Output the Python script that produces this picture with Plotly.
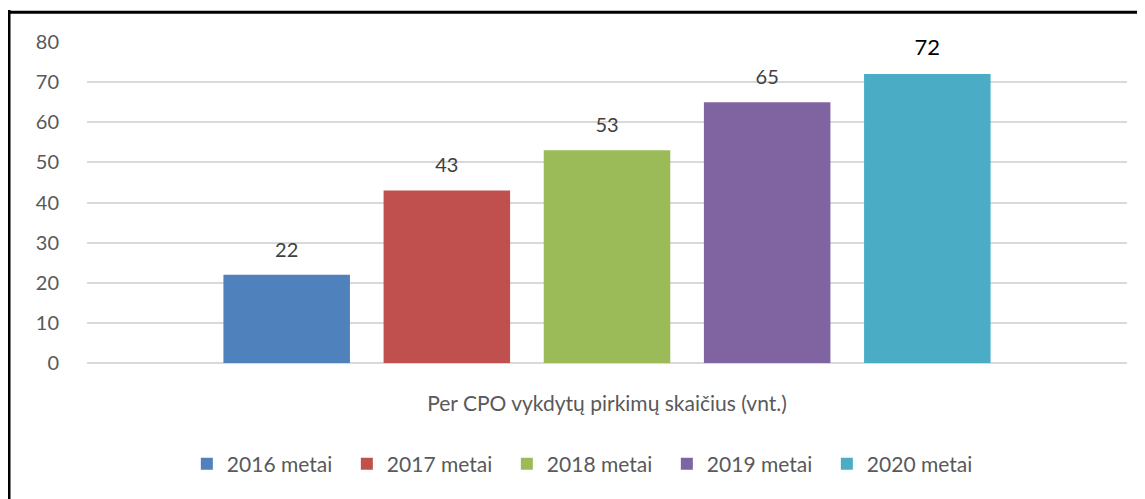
import plotly.graph_objects as go

category = "Per CPO vykdytų pirkimų skaičius (vnt.)"
years = ["2016 metai", "2017 metai", "2018 metai", "2019 metai", "2020 metai"]
counts = [22, 43, 53, 65, 72]
colors = ["#4F81BD", "#C0504D", "#9BBB59", "#8064A2", "#4BACC6"]
label_colors = ["#404040", "#404040", "#404040", "#404040", "#000000"]
label_sizes = [20, 20, 20, 20, 22]

# invisible tall sub spans on both sides pad the label upward from the bar top
pad = "<sub><span style='font-size:50px'>&nbsp;</span></sub>"

fig = go.Figure()
for name, val, col, lc, ls in zip(years, counts, colors, label_colors, label_sizes):
    fig.add_trace(go.Bar(
        x=[category],
        y=[val],
        name=name,
        marker=dict(color=col, line=dict(width=0)),
        text=[val],
        texttemplate=pad + "%{y}" + pad,
        textposition="outside",
        textfont=dict(color=lc, size=ls, family="Lato"),
        cliponaxis=False,
    ))

# page body adds 8px offset, so margins are shifted to compensate
fig.update_layout(
    barmode="group",
    bargap=0.23,
    bargroupgap=0.21,
    width=1145,
    height=499,
    margin=dict(l=79, r=26, t=34, b=144, autoexpand=False),
    plot_bgcolor="white",
    paper_bgcolor="white",
    font=dict(family="Lato", size=20, color="#595959"),
    legend=dict(
        orientation="h",
        x=0.096, xanchor="left",
        y=-0.315, yanchor="middle",
        font=dict(size=21, color="#595959"),
        itemwidth=30,
        entrywidth=115,
        entrywidthmode="pixels",
        traceorder="normal",
    ),
    yaxis=dict(
        range=[0, 80],
        dtick=10,
        showgrid=True,
        gridcolor="#D9D9D9",
        gridwidth=1.5,
        zeroline=True,
        zerolinecolor="#D9D9D9",
        zerolinewidth=1.5,
        showline=False,
        ticks="",
        ticklabelstandoff=27,
        tickfont=dict(size=20, color="#595959"),
    ),
    xaxis=dict(
        showline=False,
        ticks="",
        ticklabelstandoff=26,
        tickfont=dict(size=21, color="#595959"),
    ),
    showlegend=True,
)

# chart frame: left and top edges only
fig.add_shape(type="line", xref="paper", yref="paper",
              x0=-0.075, x1=-0.075, y0=1.1, y1=-0.5,
              line=dict(color="black", width=3))
fig.add_shape(type="line", xref="paper", yref="paper",
              x0=-0.075, x1=1.04, y0=1.093, y1=1.093,
              line=dict(color="black", width=3))

fig.write_html("out.html")
